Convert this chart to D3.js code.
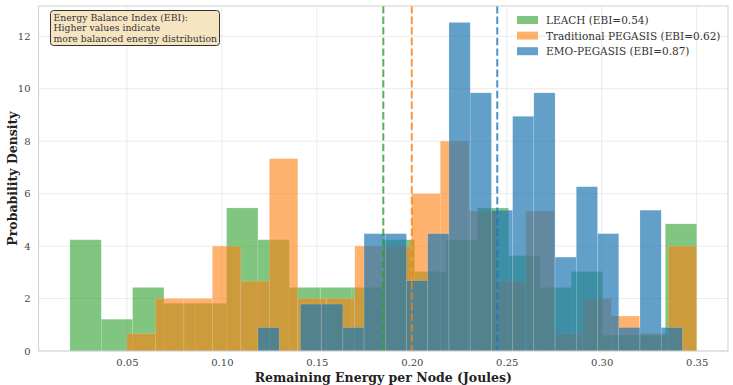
<!doctype html>
<html>

<head>
  <meta charset="utf-8">
  <title>Remaining energy per node</title>
  <style>
    body {
      margin: 0;
      background: #fff;
      font-family: 'DejaVu Serif', serif;
    }

    .tick text {
      font-family: 'DejaVu Serif', serif;
      font-size: 10px;
      fill: #444;
    }

    .axis-label {
      font-family: 'DejaVu Serif', serif;
      font-weight: bold;
      font-size: 12.5px;
      fill: #222;
    }

    .legend text,
    .note text {
      font-family: 'DejaVu Serif', serif;
      fill: #333;
    }
  </style>
</head>

<body>
  <div id="chart"></div>

  <script src="https://cdnjs.cloudflare.com/ajax/libs/d3/7.8.5/d3.min.js"></script>
  <script>

    // counts per bin, 20 bins each, 100 nodes per protocol
    var nodes = 100;
    var leachCounts = [7, 2, 4, 3, 3, 9, 7, 4, 4, 4, 7, 5, 7, 9, 6, 4, 5, 1, 1, 8];
    var pegasisCounts = [1, 3, 3, 6, 4, 11, 3, 3, 6, 6, 9, 12, 8, 4, 8, 1, 3, 2, 1, 6];
    var emoCounts = [1, 0, 2, 2, 1, 5, 5, 3, 5, 14, 11, 6, 10, 11, 4, 7, 5, 1, 6, 1];

    // min / max energy of each protocol (histogram range)
    var leachRange = [0.02, 0.35];
    var pegasisRange = [0.05, 0.35];
    var emoRange = [0.119, 0.3425];

    var seriesNames = ["LEACH (EBI=0.54)", "Traditional PEGASIS (EBI=0.62)", "EMO-PEGASIS (EBI=0.87)"];
    var seriesColors = ["#2ca02c", "#ff7f0e", "#1f77b4"];
    var seriesAlpha = [0.6, 0.6, 0.7];
    var meanEnergy = [0.185, 0.2, 0.245];

    var xTicks = [0.05, 0.10, 0.15, 0.20, 0.25, 0.30, 0.35];
    var yTicks = [0, 2, 4, 6, 8, 10, 12];

    var noteLines = ["Energy Balance Index (EBI):", "Higher values indicate", "more balanced energy distribution"];

    var width = 733;
    var height = 385;
    var margin = { top: 6, right: 5, bottom: 34, left: 38.6 };

    // turn counts into density bins like matplotlib hist(density=True)
    function makeBins(counts, range) {
      var w = (range[1] - range[0]) / counts.length;
      return counts.map((c, i) => ({
        x0: range[0] + i * w,
        x1: range[0] + (i + 1) * w,
        density: c / (nodes * w)
      }));
    }

    var series = [
      makeBins(leachCounts, leachRange),
      makeBins(pegasisCounts, pegasisRange),
      makeBins(emoCounts, emoRange)
    ];

    var allBins = series.flat();
    var xMin = d3.min(allBins, d => d.x0), xMax = d3.max(allBins, d => d.x1);
    var xPad = (xMax - xMin) * 0.05;
    var yMax = d3.max(allBins, d => d.density) * 1.05;

    var x = d3.scaleLinear().domain([xMin - xPad, xMax + xPad]).range([margin.left, width - margin.right]);
    var y = d3.scaleLinear().domain([0, yMax]).range([height - margin.bottom, margin.top]);

    var svg = d3.select("#chart").append("svg").attr("width", width).attr("height", height);

    // grid
    svg.append("g").selectAll("line").data(xTicks).join("line")
      .attr("x1", d => x(d)).attr("x2", d => x(d))
      .attr("y1", margin.top).attr("y2", height - margin.bottom)
      .attr("stroke", "#e6e6e6").attr("stroke-width", 0.8);
    svg.append("g").selectAll("line").data(yTicks).join("line")
      .attr("x1", margin.left).attr("x2", width - margin.right)
      .attr("y1", d => y(d)).attr("y2", d => y(d))
      .attr("stroke", "#e6e6e6").attr("stroke-width", 0.8);

    // histograms, drawn in legend order
    series.forEach((bins, i) => {
      svg.append("g")
        .attr("fill", seriesColors[i])
        .attr("fill-opacity", seriesAlpha[i])
        .attr("stroke", "#fff")
        .attr("stroke-opacity", 0.3)
        .attr("stroke-width", 0.5)
        .selectAll("rect")
        .data(bins.filter(d => d.density > 0))
        .join("rect")
        .attr("x", d => x(d.x0))
        .attr("width", d => x(d.x1) - x(d.x0))
        .attr("y", d => y(d.density))
        .attr("height", d => y(0) - y(d.density));
    });

    // mean lines
    svg.append("g").selectAll("line").data(meanEnergy).join("line")
      .attr("x1", d => x(d)).attr("x2", d => x(d))
      .attr("y1", margin.top).attr("y2", height - margin.bottom)
      .attr("stroke", (d, i) => seriesColors[i])
      .attr("stroke-opacity", 0.8)
      .attr("stroke-width", 2)
      .attr("stroke-dasharray", "7.4,3.2");

    // frame
    svg.append("rect")
      .attr("x", margin.left).attr("y", margin.top)
      .attr("width", width - margin.right - margin.left)
      .attr("height", height - margin.bottom - margin.top)
      .attr("fill", "none").attr("stroke", "#cfcfcf").attr("stroke-width", 1);

    // axes
    svg.append("g")
      .attr("transform", `translate(0,${height - margin.bottom})`)
      .call(d3.axisBottom(x).tickValues(xTicks).tickFormat(d3.format(".2f")).tickSize(0).tickPadding(8))
      .call(g => g.select(".domain").remove());

    svg.append("g")
      .attr("transform", `translate(${margin.left},0)`)
      .call(d3.axisLeft(y).tickValues(yTicks).tickSize(0).tickPadding(8))
      .call(g => g.select(".domain").remove());

    svg.append("text").attr("class", "axis-label")
      .attr("x", (margin.left + width - margin.right) / 2)
      .attr("y", height - 3)
      .attr("text-anchor", "middle")
      .text("Remaining Energy per Node (Joules)");

    svg.append("text").attr("class", "axis-label")
      .attr("transform", `translate(17,${(margin.top + height - margin.bottom) / 2}) rotate(-90)`)
      .attr("text-anchor", "middle")
      .text("Probability Density");

    // legend
    var legend = svg.append("g").attr("class", "legend").attr("transform", "translate(517,16)");
    var rows = legend.selectAll("g").data(seriesNames).join("g")
      .attr("transform", (d, i) => `translate(0,${i * 15.6})`);
    rows.append("rect")
      .attr("width", 21).attr("height", 8)
      .attr("fill", (d, i) => seriesColors[i])
      .attr("fill-opacity", (d, i) => seriesAlpha[i]);
    rows.append("text")
      .attr("x", 29).attr("y", 8)
      .attr("font-size", 10.5)
      .text(d => d);

    // note box
    var note = svg.append("g").attr("class", "note").attr("transform", "translate(50.5,10.5)");
    note.append("rect")
      .attr("width", 169).attr("height", 35).attr("rx", 3)
      .attr("fill", "#f5deb3").attr("fill-opacity", 0.8)
      .attr("stroke", "#333").attr("stroke-width", 1);
    note.selectAll("text").data(noteLines).join("text")
      .attr("x", 3).attr("y", (d, i) => 10 + i * 10.6)
      .attr("font-size", 9.3)
      .text(d => d);

  </script>
</body>

</html>
